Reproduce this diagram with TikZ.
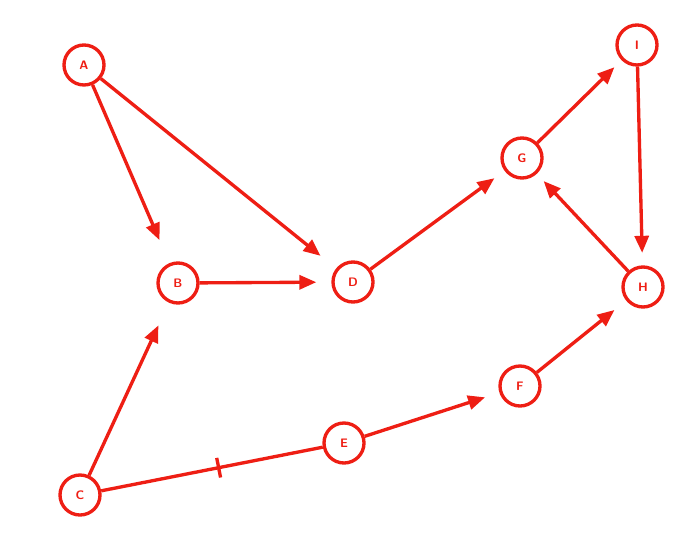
\documentclass[tikz,border=0pt]{standalone}
\usepackage{amsmath}
\usepackage{tikz}
\usetikzlibrary{calc}
\usetikzlibrary{arrows.meta}
\definecolor{penred}{RGB}{238,30,20}

\begin{document}
\begin{tikzpicture}[
		vertex/.style={circle,draw=penred,line width=1.9pt,minimum size=0.8cm,inner sep=0pt,text=penred,font=\sffamily\bfseries\scriptsize},
		edge/.style={penred,line width=1.9pt,-{Triangle[length=0.34cm,width=0.28cm]},shorten >=0.3cm},
		plain/.style={penred,line width=1.9pt}
	]
		\useasboundingbox (0,0) rectangle (14,10.76);
		\node[vertex](A) at (1.68,9.46){A};
		\node[vertex](B) at (3.56,5.10){B};
		\node[vertex](C) at (1.60,0.86){C};
		\node[vertex](D) at (7.06,5.12){D};
		\node[vertex](E) at (6.88,1.90){E};
		\node[vertex](F) at (10.40,3.04){F};
		\node[vertex](G) at (10.44,7.60){G};
		\node[vertex](H) at (12.86,5.02){H};
		\node[vertex](I) at (12.74,9.86){I};
		
		\draw[edge,shorten >=0.5cm] (A)--(B);
		\draw[edge,shorten >=0.4cm] (A)--(D);
		\draw[edge] (B)--(D);
		\draw[edge,shorten >=0.5cm] (C)--(B);
		\draw[edge] (E)--(F);
		\draw[edge,shorten >=0.25cm] (D)--(G);
		\draw[edge,shorten >=0.2cm] (G)--(I);
		\draw[edge,shorten >=0.25cm] (I)--(H);
		\draw[edge,shorten >=0.2cm] (H)--(G);
		\draw[edge] (F)--(H);
		
		\draw[plain] (C)--(E) coordinate[pos=0.53](T);
		\draw[plain] ($(T)!0.2cm!90:(E)$)--($(T)!0.2cm!-90:(E)$);
	\end{tikzpicture}
\end{document}
